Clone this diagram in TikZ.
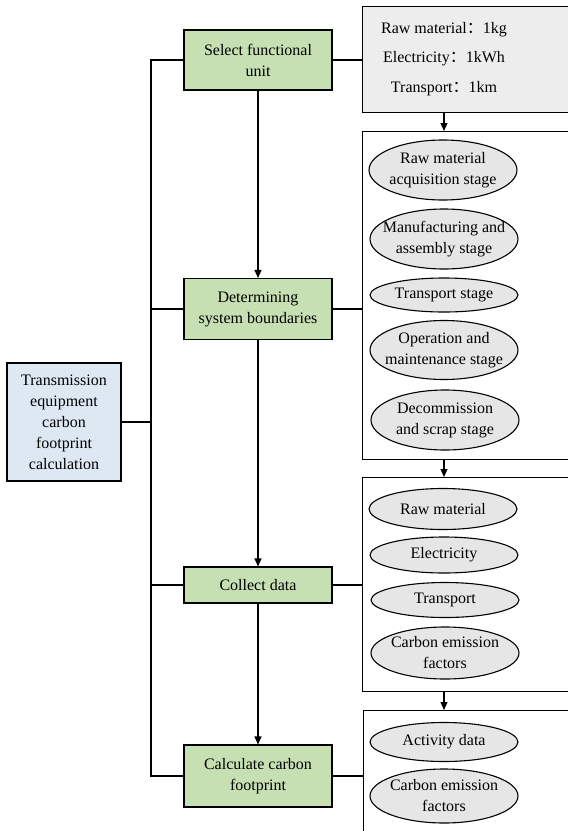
\documentclass[tikz,border=0pt]{standalone}
\usepackage{fontspec}
\setmainfont{Liberation Serif}
\newfontfamily\cjk{Noto Sans CJK SC}
\usetikzlibrary{arrows.meta,shapes.geometric}
\definecolor{stepgreen}{HTML}{C6E0B4}
\definecolor{rootblue}{HTML}{DDE8F3}
\definecolor{itemgrey}{HTML}{E6E6E6}
\definecolor{unitgrey}{HTML}{EDEDED}

\begin{document}
\begin{tikzpicture}[x=1pt, y=-1pt, line width=1.1pt, every node/.style={font=\fontsize{16}{21}\selectfont, align=center}, >={Triangle[length=8pt,width=7pt]}, stp/.style={draw, fill=stepgreen, minimum width=148pt, inner sep=0pt}, grp/.style={draw, minimum width=213pt, anchor=north west, inner sep=0pt}, itm/.style={draw, ellipse, fill=itemgrey, minimum width=148pt, inner xsep=-30pt, inner ysep=-6pt}]
	\useasboundingbox (0,0) rectangle (568,831);
	\clip (0,0) rectangle (568,831);
	% main steps
	\node[draw, fill=rootblue, minimum width=114pt, minimum height=118pt, inner sep=0pt] (root) at (64,422) {Transmission\\equipment\\carbon\\footprint\\calculation};
	\node[stp, minimum height=60pt] (g1) at (258,60) {Select functional\\unit};
	\node[stp, minimum height=61pt] (g2) at (258,309) {Determining\\system boundaries};
	\node[stp, minimum height=36pt] (g3) at (258,585) {Collect data};
	\node[stp, minimum height=62pt] (g4) at (258,776) {Calculate carbon\\footprint};
	\coordinate (trunk) at (151,0);
	% right side groups
	\node[grp, fill=unitgrey, minimum height=106pt] (unitbox) at (362,6) {};
	\node[font=\fontsize{16}{29.5}\selectfont] (unit) at (444,59) {Raw material{\cjk ：}1kg\\Electricity{\cjk ：}1kWh\\Transport{\cjk ：}1km};
	\node[grp, minimum height=328pt] (bndbox) at (362,131) {};
	\node[grp, minimum height=214pt] (databox) at (362,477) {};
	\node[grp, minimum height=140pt] (calcbox) at (363,710) {};
	\node[itm, minimum height=60pt] (s1) at (443,170) {Raw material\\acquisition stage};
	\node[itm, minimum height=60pt] (s2) at (444,239) {Manufacturing and\\assembly stage};
	\node[itm, minimum height=34pt] (s3) at (444,295) {Transport stage};
	\node[itm, minimum height=59pt] (s4) at (444,350) {Operation and\\maintenance stage};
	\node[itm, minimum height=60pt] (s5) at (445,420) {Decommission\\and scrap stage};
	\node[itm, minimum height=41pt] (d1) at (443,509) {Raw material};
	\node[itm, minimum height=36pt] (d2) at (444,555) {Electricity};
	\node[itm, minimum height=35pt] (d3) at (445,600) {Transport};
	\node[itm, minimum height=52pt] (d4) at (445,653) {Carbon emission\\factors};
	\node[itm, minimum height=39pt] (c1) at (444,742) {Activity data};
	\node[itm, minimum height=54pt] (c2) at (444,796) {Carbon emission\\factors};
	% connectors
	\draw[->] (g1) -- (g2);
	\draw[->] (g2) -- (g3);
	\draw[->] (g3) -- (g4);
	\draw (g1.west) -- (g1.west -| trunk) |- (g4.west);
	\draw (g2.west) -- (g2.west -| trunk);
	\draw (g3.west) -- (g3.west -| trunk);
	\draw (root.east) -- (root.east -| trunk);
	\draw (g1.east) -- (g1.east -| unitbox.west);
	\draw (g2.east) -- (g2.east -| bndbox.west);
	\draw (g3.east) -- (g3.east -| databox.west);
	\draw (g4.east) -- (g4.east -| calcbox.west);
	\draw[->] (unitbox.south -| unit) -- (bndbox.north -| unit);
	\draw[->] (bndbox.south -| unit) -- (databox.north -| unit);
	\draw[->] (databox.south -| unit) -- (calcbox.north -| unit);
\end{tikzpicture}
\end{document}
